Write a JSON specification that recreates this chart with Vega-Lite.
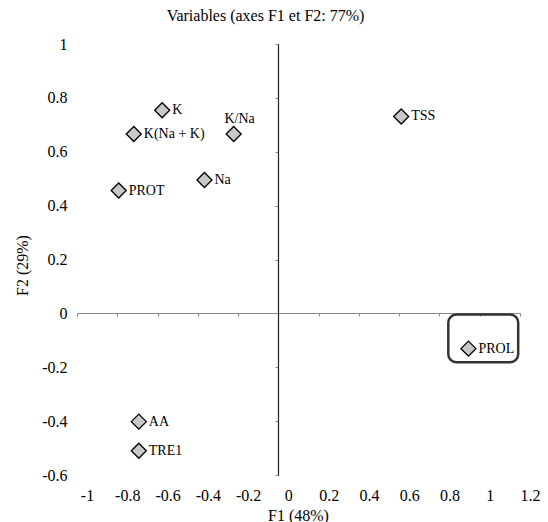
{
  "$schema": "https://vega.github.io/schema/vega-lite/v6.json",
  "autosize": {"type": "none"},
  "padding": {"left": 77, "top": 44, "right": 28, "bottom": 47},
  "width": 443,
  "height": 431,
  "background": "white",
  "config": {
    "view": {"stroke": null},
    "font": "DejaVu Serif",
    "axis": {"grid": false, "labelColor": "black", "titleColor": "black", "titleFontWeight": "normal"}
  },
  "title": {
    "text": "Variables (axes F1 et F2: 77%)",
    "font": "'Liberation Serif'",
    "fontSize": 16,
    "fontWeight": "normal",
    "color": "black",
    "anchor": "middle",
    "dx": -33,
    "offset": 12
  },
  "data": {
    "values": [
      {"var": "K", "F1": -0.577, "F2": 0.754},
      {"var": "K(Na + K)", "F1": -0.718, "F2": 0.666},
      {"var": "K/Na", "F1": -0.222, "F2": 0.666},
      {"var": "Na", "F1": -0.367, "F2": 0.495},
      {"var": "PROT", "F1": -0.793, "F2": 0.456},
      {"var": "TSS", "F1": 0.61, "F2": 0.731},
      {"var": "PROL", "F1": 0.944, "F2": -0.131},
      {"var": "AA", "F1": -0.693, "F2": -0.402},
      {"var": "TRE1", "F1": -0.693, "F2": -0.51}
    ]
  },
  "layer": [
    {
      "mark": {"type": "point", "opacity": 0},
      "encoding": {
        "x": {"field": "F1", "type": "quantitative", "scale": {"domain": [-1, 1.2], "nice": false, "zero": false},
          "axis": {"orient": "bottom", "domain": false, "ticks": false, "labels": true, "values": [-1, -0.8, -0.6, -0.4, -0.2, 0, 0.2, 0.4, 0.6, 0.8, 1, 1.2], "labelExpr": "datum.value + ''", "labelFont": "Liberation Serif", "titleFont": "serif", "labelOffset": 10, "labelPadding": 12, "labelFontSize": 16, "labelFlush": false, "title": "F1 (48%)", "titleFontSize": 16, "titleX": 221, "titleY": 40, "titleBaseline": "middle"}},
        "y": {"field": "F2", "type": "quantitative", "scale": {"domain": [-0.6, 1], "nice": false, "zero": false},
          "axis": {"orient": "left", "domain": false, "ticks": false, "labels": true, "values": [-0.6, -0.4, -0.2, 0, 0.2, 0.4, 0.6, 0.8, 1], "labelExpr": "datum.value + ''", "labelFont": "Liberation Serif", "titleFont": "serif", "labelPadding": 10, "labelFontSize": 16, "labelFlush": false, "title": "F2 (29%)", "titleFontSize": 16, "titleX": -55, "titleY": 221, "titleBaseline": "middle", "titleAngle": -90}}
      }
    },
    {
      "mark": {"type": "point", "opacity": 0},
      "encoding": {
        "x": {"field": "F1", "type": "quantitative",
          "axis": {"orient": "bottom", "offset": -162, "labels": false, "title": null, "domain": true, "domainColor": "#888888", "domainWidth": 1, "ticks": true, "tickColor": "#888888", "tickSize": 3, "values": [-1, -0.8, -0.6, -0.4, -0.2, 0, 0.2, 0.4, 0.6, 0.8, 1, 1.2]}},
        "y": {"field": "F2", "type": "quantitative",
          "axis": {"orient": "left", "offset": -201, "labels": false, "title": null, "domain": true, "domainColor": "#222222", "domainWidth": 1.2, "ticks": true, "tickColor": "#888888", "tickSize": 3, "values": [-0.6, -0.4, -0.2, 0, 0.2, 0.4, 0.6, 0.8, 1]}}
      }
    },
    {
      "data": {"values": [{"x1": 0.844, "x2": 1.191, "y1": -0.004, "y2": -0.181}]},
      "mark": {"type": "rect", "fill": null, "stroke": "#333333", "strokeWidth": 2.5, "cornerRadius": 8},
      "encoding": {
        "x": {"field": "x1", "type": "quantitative", "axis": null},
        "x2": {"field": "x2"},
        "y": {"field": "y1", "type": "quantitative", "axis": null},
        "y2": {"field": "y2"}
      }
    },
    {
      "mark": {"type": "point", "shape": "diamond", "size": 225, "filled": true, "fill": "#c8c8c8", "stroke": "black", "strokeWidth": 1.3, "opacity": 1},
      "encoding": {
        "x": {"field": "F1", "type": "quantitative", "axis": null},
        "y": {"field": "F2", "type": "quantitative", "axis": null}
      }
    },
    {
      "transform": [{"filter": "datum.var !== 'K/Na'"}],
      "mark": {"type": "text", "align": "left", "baseline": "middle", "dx": 10, "fontSize": 14, "font": "Liberation Serif", "color": "black"},
      "encoding": {
        "x": {"field": "F1", "type": "quantitative", "axis": null},
        "y": {"field": "F2", "type": "quantitative", "axis": null},
        "text": {"field": "var"}
      }
    },
    {
      "transform": [{"filter": "datum.var === 'K/Na'"}],
      "mark": {"type": "text", "align": "center", "baseline": "middle", "dx": 6, "dy": -15, "fontSize": 14, "font": "Liberation Serif", "color": "black"},
      "encoding": {
        "x": {"field": "F1", "type": "quantitative", "axis": null},
        "y": {"field": "F2", "type": "quantitative", "axis": null},
        "text": {"field": "var"}
      }
    }
  ],
  "resolve": {"axis": {"x": "independent", "y": "independent"}}
}
